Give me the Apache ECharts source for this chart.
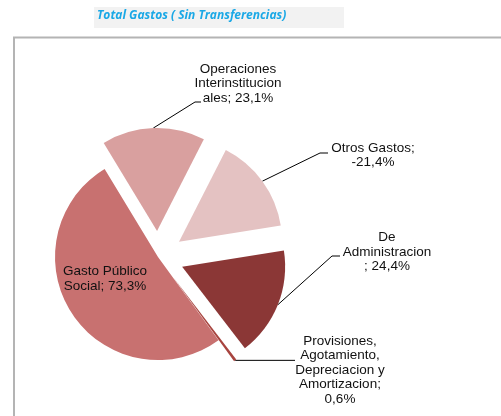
<!DOCTYPE html>
<html><head><meta charset="utf-8">
<script src="https://cdn.jsdelivr.net/npm/echarts@6/dist/echarts.min.js"></script>
<style>html,body{margin:0;padding:0;background:#fff}#c{width:501px;height:416px}</style>
</head><body><div id="c"></div>
<script>
// ---- data ----
const titleText = 'Total Gastos ( Sin Transferencias)';
const categories = ['Gasto Público Social', 'Operaciones Interinstitucionales', 'Otros Gastos', 'De Administracion', 'Provisiones, Agotamiento, Depreciacion y Amortizacion'];
const values = [73.3, 23.1, -21.4, 24.4, 0.6];
const labelPrefixes = ['Gasto Público\nSocial; ', 'Operaciones\nInterinstitucion\nales; ', 'Otros Gastos;\n', 'De\nAdministracion\n; ', 'Provisiones,\nAgotamiento,\nDepreciacion y\nAmortizacion;\n'];
const exploded = [false, true, true, true, true];

// ---- style / layout ----
const colors = ['#c87170', '#d9a09f', '#e4c2c2', '#8b3736', '#a8443f'];
const CX = 158, CY = 257, R = 103, EXPLODE = 26;
const START_CLOCK = 144; // degrees clockwise from 12 o'clock
const labelPos = [
  { x: 105, y: 279 },
  { x: 238, y: 83.5, bend: [195, 102], end: [201, 102] },
  { x: 373, y: 155.5, bend: [320, 153], end: [328, 153] },
  { x: 387, y: 252, bend: [332, 256], end: [340, 256] },
  { x: 340, y: 370, endX: 295 }
];

function fmt(v) { return v.toFixed(1).replace('.', ',') + '%'; }

const absVals = values.map(Math.abs);
const total = absVals.reduce((a, b) => a + b, 0);
let cum = 0;
const offsets = absVals.map((v, i) => {
  const mid = START_CLOCK + 360 * (cum + v / 2) / total;
  cum += v;
  const a = mid * Math.PI / 180;
  const d = exploded[i] ? EXPLODE : 0;
  return [Math.sin(a) * d, -Math.cos(a) * d];
});

const series = categories.map((_, k) => ({
  type: 'pie',
  center: [CX + offsets[k][0], CY + offsets[k][1]],
  radius: R,
  startAngle: 90 - START_CLOCK,
  clockwise: true,
  avoidLabelOverlap: false,
  emphasis: { disabled: true },
  silent: true,
  data: categories.map((n, i) => ({
    name: n,
    value: absVals[i],
    itemStyle: { color: i === k ? colors[i] : 'rgba(0,0,0,0)' },
    label: { show: i === k },
    labelLine: { show: i === k && k !== 0 }
  })),
  label: {
    position: 'outside',
    fontFamily: 'Liberation Sans, Arial, sans-serif',
    fontSize: 13.5,
    lineHeight: 14.5,
    color: '#111',
    align: 'center',
    formatter: p => labelPrefixes[p.dataIndex] + fmt(values[p.dataIndex])
  },
  labelLine: { length: 10, length2: 10, lineStyle: { color: '#000', width: 1 } },
  labelLayout: function (p) {
    const L = labelPos[p.dataIndex];
    const out = { x: L.x, y: L.y, align: 'center', verticalAlign: 'middle' };
    if (p.labelLinePoints && p.dataIndex > 0) {
      const p0 = p.labelLinePoints[0];
      out.labelLinePoints = L.endX != null ? [p0, [L.endX, p0[1]]] : [p0, L.bend, L.end];
    }
    return out;
  }
}));

const chart = echarts.init(document.getElementById('c'), null, { renderer: 'canvas' });
chart.setOption({
  animation: false,
  title: {
    text: titleText, left: 97, top: 10, padding: 0,
    textStyle: { fontFamily: 'Open Sans', fontStyle: 'italic', fontWeight: 'bold', fontSize: 12, color: '#1aa8e6' }
  },
  graphic: [
    { type: 'rect', z: -10, shape: { x: 94, y: 7, width: 250, height: 21 }, style: { fill: '#f2f2f2' } },
    { type: 'rect', z: -10, shape: { x: 14, y: 37.5, width: 600, height: 500 }, style: { fill: 'none', stroke: '#b4b4b4', lineWidth: 2 } }
  ],
  series: series
});
</script></body></html>
